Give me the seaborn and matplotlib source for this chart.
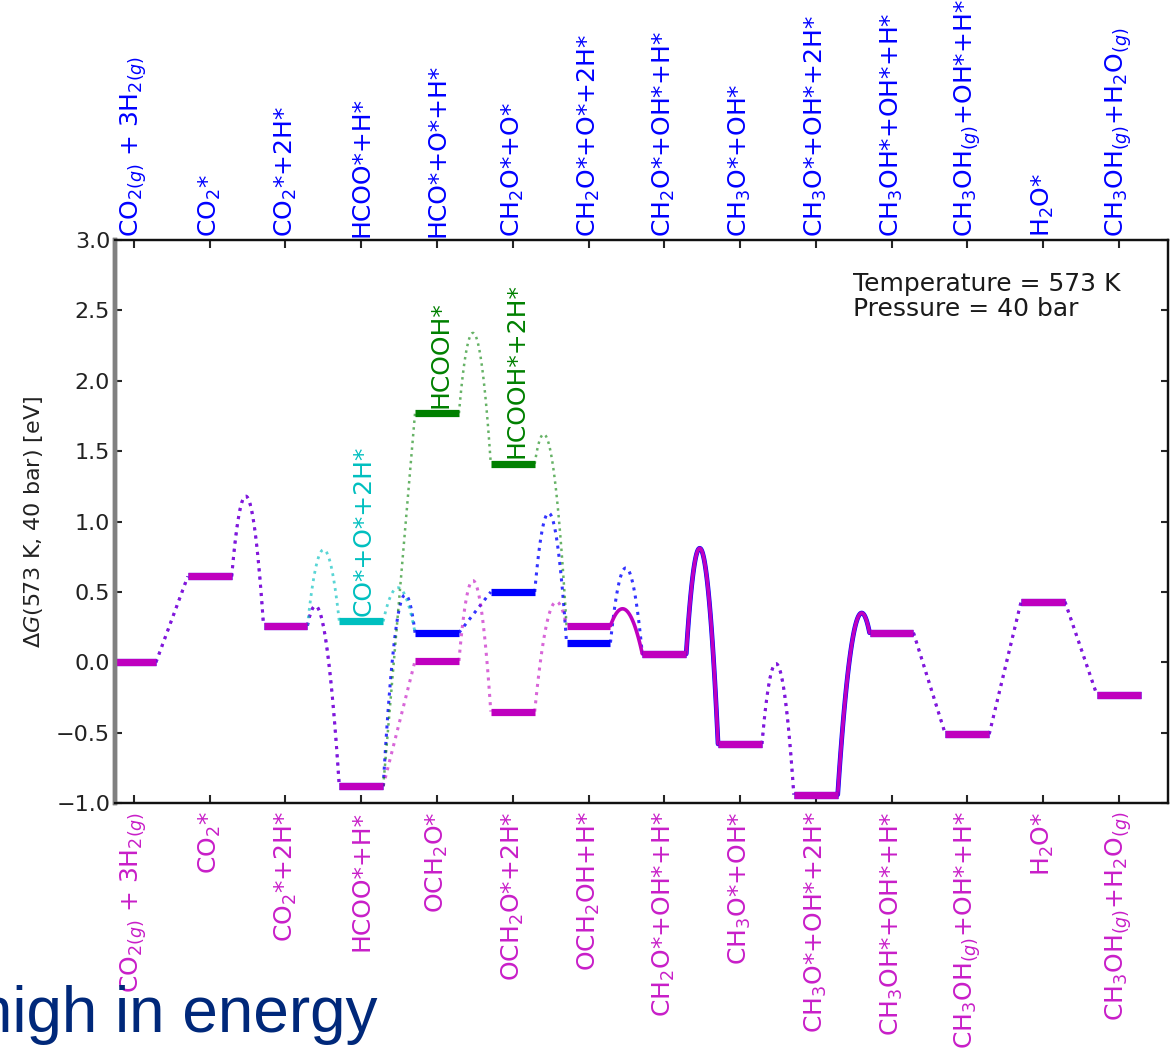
import numpy as np
import matplotlib
matplotlib.use("Agg")
import matplotlib.pyplot as plt
import seaborn as sns

# ---- reaction states (one column per tick) ----
states = list(range(14))

labels_formate = [r'CO$_{2(g)}$ + 3H$_{2(g)}$', r'CO$_2$*', r'CO$_2$*+2H*', 'HCOO*+H*',
                  r'OCH$_2$O*', r'OCH$_2$O*+2H*', r'OCH$_2$OH+H*', r'CH$_2$O*+OH*+H*',
                  r'CH$_3$O*+OH*', r'CH$_3$O*+OH*+2H*', r'CH$_3$OH*+OH*+H*',
                  r'CH$_3$OH$_{(g)}$+OH*+H*', r'H$_2$O*', r'CH$_3$OH$_{(g)}$+H$_2$O$_{(g)}$']

labels_hco = [r'CO$_{2(g)}$ + 3H$_{2(g)}$', r'CO$_2$*', r'CO$_2$*+2H*', 'HCOO*+H*',
              'HCO*+O*+H*', r'CH$_2$O*+O*', r'CH$_2$O*+O*+2H*', r'CH$_2$O*+OH*+H*',
              r'CH$_3$O*+OH*', r'CH$_3$O*+OH*+2H*', r'CH$_3$OH*+OH*+H*',
              r'CH$_3$OH$_{(g)}$+OH*+H*', r'H$_2$O*', r'CH$_3$OH$_{(g)}$+H$_2$O$_{(g)}$']

# free energies of the intermediates [eV]
G_formate = [0.00, 0.61, 0.26, -0.88, 0.01, -0.35, 0.26, 0.06, -0.58, -0.94, 0.21, -0.51, 0.43, -0.23]
G_hco     = [0.00, 0.61, 0.26, -0.88, 0.21, 0.50, 0.14, 0.06, -0.58, -0.94, 0.21, -0.51, 0.43, -0.23]

# transition-state energies between state i and i+1 (None = no barrier)
TS_formate = [None, 1.18, 0.40, None, 0.58, 0.43, 0.38, 0.81, -0.01, 0.35, None, None, None]
TS_hco     = [None, 1.18, 0.40, 0.48, None, 1.06, 0.67, 0.81, -0.01, 0.35, None, None, None]

# solid line for these steps, dotted otherwise
solid_formate = [6, 7, 9]
solid_hco = [7, 9]

# CO* side branch
co_x = [2, 3, 4]
co_G = [0.26, 0.29, 0.21]
co_TS = [0.80, 0.53]
co_label = 'CO*+O*+2H*'

# formic acid side branch
fa_x = [3, 4, 5, 6]
fa_G = [-0.88, 1.77, 1.41, 0.26]
fa_TS = [None, 2.34, 1.62]
fa_labels = ['HCOOH*', 'HCOOH*+2H*']

temperature = 573
pressure = 40

C_MAG = '#bf00bf'
C_BLUE = '#0000ff'
C_CYAN = '#00bfbf'
C_GREEN = '#008000'

HALF = 0.29  # half width of an intermediate level
DOTS = (0, (1, 1.7))

sns.set_style("ticks")
plt.rcParams['font.family'] = ['DejaVu Sans']
plt.rcParams['mathtext.fontset'] = 'dejavusans'


def barrier(xa, ea, xb, eb, ets, n=80):
    """Parabola through both level ends with its vertex at the transition state."""
    if ets is None:
        return np.array([xa, xb]), np.array([ea, eb])
    r = np.sqrt((ets - ea) / (ets - eb))
    xp = xa + (xb - xa) * r / (1 + r)
    k = (ets - ea) / (xp - xa) ** 2
    xs = np.linspace(xa, xb, n)
    return xs, ets - k * (xs - xp) ** 2


def draw_steps(ax, xs, gs, tss, color, solid=(), alpha=0.7, dot_lw=2.2, solid_lw=2.6,
               z_dot=2, z_solid=3):
    for i in range(len(xs) - 1):
        cx, cy = barrier(xs[i] + HALF, gs[i], xs[i + 1] - HALF, gs[i + 1], tss[i])
        if xs[i] in solid:
            ax.plot(cx, cy, color=color, lw=solid_lw, solid_capstyle='round', zorder=z_solid)
        else:
            ax.plot(cx, cy, color=color, lw=dot_lw, linestyle=DOTS,
                    alpha=alpha, zorder=z_dot)


def draw_levels(ax, xs, gs, color, z=5):
    for x, g in zip(xs, gs):
        ax.plot([x - HALF, x + HALF], [g, g], color=color, lw=5.2,
                solid_capstyle='butt', zorder=z)


fig = plt.figure(figsize=(11.74, 10.5), dpi=100)
ax = fig.add_axes([0.0980, 0.2352, 0.8969, 0.5362])

# pathways: HCO route underneath, formate route on top
draw_steps(ax, states, G_hco, TS_hco, C_BLUE, solid=solid_hco, alpha=0.8, solid_lw=3.4,
           z_dot=1.8, z_solid=2.8)
draw_steps(ax, states, G_formate, TS_formate, C_MAG, solid=solid_formate, alpha=0.6,
           z_dot=2.0, z_solid=3.0)
draw_steps(ax, co_x, co_G, co_TS, C_CYAN, alpha=0.65, dot_lw=2.0, z_dot=2.1)
draw_steps(ax, fa_x, fa_G, fa_TS, C_GREEN, alpha=0.6, dot_lw=1.8, z_dot=2.1)

draw_levels(ax, states, G_hco, C_BLUE, z=5)
draw_levels(ax, states, G_formate, C_MAG, z=6)
draw_levels(ax, co_x[1:2], co_G[1:2], C_CYAN, z=6)
draw_levels(ax, fa_x[1:3], fa_G[1:3], C_GREEN, z=6)

# branch labels
ax.text(co_x[1] + 0.03, co_G[1] + 0.04, co_label, rotation=90, color=C_CYAN,
        ha='center', va='bottom', fontsize=18)
for x, g, t in zip(fa_x[1:3], fa_G[1:3], fa_labels):
    ax.text(x + 0.05, g + 0.04, t, rotation=90, color=C_GREEN,
            ha='center', va='bottom', fontsize=18)

ax.text(0.701, 0.944, f'Temperature = {temperature} K\nPressure = {pressure} bar',
        transform=ax.transAxes, ha='left', va='top', fontsize=18, color='#1a1a1a',
        linespacing=1.1)

ax.set_xlim(-0.25, 13.65)
ax.set_ylim(-1.0, 3.0)
ax.set_yticks(np.arange(-1.0, 3.01, 0.5))
ax.set_yticklabels([f'{v:.1f}'.replace('-', '\u2212') for v in np.arange(-1.0, 3.01, 0.5)])
ax.set_ylabel(f'$\\Delta G$({temperature} K, {pressure} bar) [eV]', fontsize=16,
              color='#222222', labelpad=8)

ax.set_xticks(states)
ax.set_xticklabels(labels_formate, rotation=90, fontsize=18, color='#c81ec8')
ax.tick_params(axis='y', labelsize=16, direction='in', length=5, width=1.5,
               right=True, labelcolor='#222222')
ax.tick_params(axis='x', direction='in', length=6, width=1.5, pad=6)

top = ax.twiny()
top.set_xlim(ax.get_xlim())
top.set_xticks(states)
top.set_xticklabels(labels_hco, rotation=90, fontsize=18, color=C_BLUE)
top.tick_params(axis='x', direction='in', length=6, width=1.5, pad=2)

for a in (ax, top):
    for s in a.spines.values():
        s.set_color('#111111')
        s.set_linewidth(1.6)
    a.spines['left'].set_color('#808080')
    a.spines['left'].set_linewidth(3.2)

fig.text(377 / 1174, 1 - 1032 / 1050, 'high in energy', fontsize=46,
         family=['Liberation Sans', 'DejaVu Sans'], color='#00287a',
         ha='right', va='baseline', zorder=10)

fig.savefig('out.png', dpi=100, facecolor='white')
